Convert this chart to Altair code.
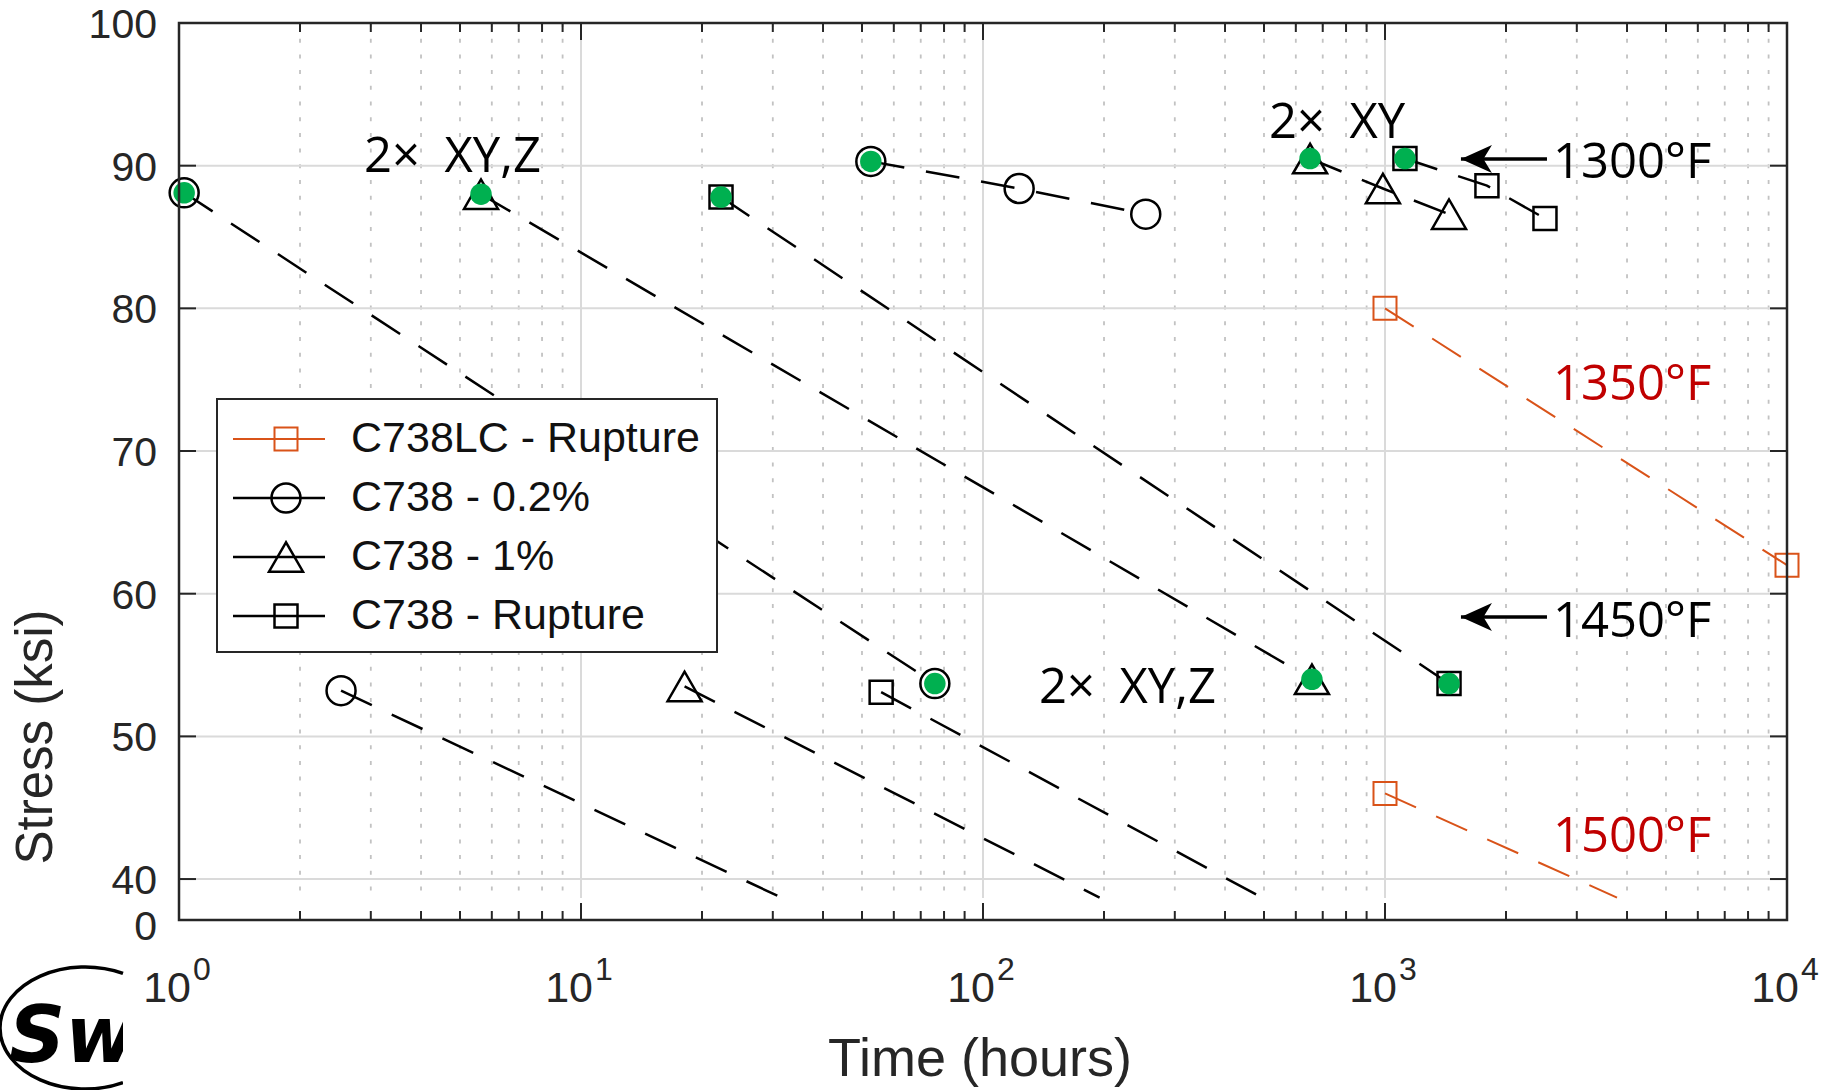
import json
import altair as alt
import pandas as pd

# ------------------------------------------------------------------
# Data (time in hours, stress in ksi)
# ------------------------------------------------------------------
SERIES = ["C738LC - Rupture", "C738 - 0.2%", "C738 - 1%", "C738 - Rupture"]
SERIES_COLOR = ["#D95319", "#000000", "#000000", "#000000"]
SERIES_SHAPE = ["square", "circle", "triangle-up", "square"]
SERIES_SIZE = [529, 841, 1156, 529]
SERIES_STROKE = [2.0, 2.5, 2.5, 2.5]

LC_RUP_TIME = [1000, 10000, 1000]
LC_RUP_STRESS = [80, 62, 46]
LC_RUP_DUP = [False, False, False]

C02_TIME = [1.03, 52.6, 123, 254, 2.53, 75.9]
C02_STRESS = [88.1, 90.3, 88.4, 86.6, 53.2, 53.7]
C02_DUP = [True, True, False, False, False, True]

C1_TIME = [5.64, 651, 988, 1443, 18.1, 658]
C1_STRESS = [88.0, 90.5, 88.4, 86.6, 53.5, 54.0]
C1_DUP = [True, True, False, False, False, True]

CRUP_TIME = [22.3, 1121, 1793, 2500, 55.8, 1443]
CRUP_STRESS = [87.8, 90.5, 88.6, 86.3, 53.1, 53.7]
CRUP_DUP = [True, True, False, False, False, True]

# dashed trend lines
TREND_SERIES = ["C738 - 0.2%", "C738 - 1%", "C738 - Rupture",
                "C738 - 0.2%", "C738 - 1%", "C738 - Rupture",
                "C738 - 0.2%", "C738 - 1%", "C738 - Rupture",
                "C738LC - Rupture", "C738LC - Rupture"]
TREND_TIME = [[52.6, 123, 254], [651, 988, 1443], [1121, 1793, 2500],
              [1.03, 75.9], [5.64, 658], [22.3, 1443],
              [2.53, 31.5], [18.1, 195], [55.8, 494],
              [1000, 10000], [1000, 3777]]
TREND_STRESS = [[90.3, 88.4, 86.6], [90.5, 88.4, 86.6], [90.5, 88.6, 86.3],
                [88.1, 53.7], [88.0, 54.0], [87.8, 53.7],
                [53.2, 38.7], [53.5, 38.7], [53.1, 38.7],
                [80, 62], [46, 38.7]]

# axes
X_MAJOR = [1, 10, 100, 1000, 10000]
X_MAJOR_EXP = ["0", "1", "2", "3", "4"]
X_MINOR = [m * d for d in [1, 10, 100, 1000] for m in range(2, 10)]
X_GRID_MAJOR = [10, 100, 1000]
Y_TICKS = [40, 50, 60, 70, 80, 90, 100]
Y_TICK_LABELS = ["40", "50", "60", "70", "80", "90", "100"]
Y_GRID = [40, 50, 60, 70, 80, 90]
Y_BREAK = 37.13          # where the broken axis shows "0"
Y_BREAK_LABEL = "0"
X_TITLE = "Time (hours)"
Y_TITLE = "Stress (ksi)"

# annotations
ANNOT_TEXT = ["2×\u2002XY,Z", "2×\u2002XY", "2×\u2002XY,Z",
              "1300°F", "1350°F", "1450°F", "1500°F"]
ANNOT_TIME = [2.885, 514.5, 137.8, 2618, 2618, 2618, 2618]
ANNOT_STRESS = [89.56, 91.94, 52.34, 89.14, 73.58, 56.96, 41.89]
ANNOT_COLOR = ["#000000", "#000000", "#000000", "#000000", "#C00000", "#000000", "#C00000"]

ARROW_TIP = [1545, 1545]
ARROW_TAIL = [2529, 2529]
ARROW_STRESS = [90.47, 58.37]

# ------------------------------------------------------------------
W, H = 1608, 897
FONT = "Liberation Sans"
AX = "#262626"

xs = alt.Scale(type="log", domain=[1, 10000], nice=False)
ys = alt.Scale(domain=[Y_BREAK, 100], nice=False, zero=False)
color_s = alt.Scale(domain=SERIES, range=SERIES_COLOR)
shape_s = alt.Scale(domain=SERIES, range=SERIES_SHAPE)

SER_JS = json.dumps(SERIES)
SIZE_EXPR = f"{json.dumps(SERIES_SIZE)}[indexof({SER_JS}, datum.series)]"
SW_EXPR = f"{json.dumps(SERIES_STROKE)}[indexof({SER_JS}, datum.series)]"

rows = []
for name, ts, ss, dd in [(SERIES[0], LC_RUP_TIME, LC_RUP_STRESS, LC_RUP_DUP),
                         (SERIES[1], C02_TIME, C02_STRESS, C02_DUP),
                         (SERIES[2], C1_TIME, C1_STRESS, C1_DUP),
                         (SERIES[3], CRUP_TIME, CRUP_STRESS, CRUP_DUP)]:
    for t, s, d in zip(ts, ss, dd):
        rows.append({"series": name, "time": t, "stress": s, "dup": d})
pts = pd.DataFrame(rows)

trows = []
for i, (name, ts, ss) in enumerate(zip(TREND_SERIES, TREND_TIME, TREND_STRESS)):
    for j, (t, s) in enumerate(zip(ts, ss)):
        trows.append({"line": i, "idx": j, "series": name, "time": t, "stress": s})
trend = pd.DataFrame(trows)

one = pd.DataFrame({"a": [0]})

X = lambda f="time": alt.X(f"{f}:Q", scale=xs, axis=None)
Y = lambda f="stress": alt.Y(f"{f}:Q", scale=ys, axis=None)
MSIZE = alt.Size("msize:Q", scale=None, legend=None)
MSW = alt.StrokeWidth("msw:Q", scale=None, legend=None)

# grid
vminor = alt.Chart(pd.DataFrame({"time": X_MINOR})).mark_rule(
    color="#c2c2c2", strokeWidth=1.8, strokeDash=[4, 11.7]).encode(
    x=X(), y=alt.value(0), y2=alt.value(875))
vmajor = alt.Chart(pd.DataFrame({"time": X_GRID_MAJOR})).mark_rule(
    color="#dadada", strokeWidth=2).encode(x=X(), y=alt.value(0), y2=alt.value(875))
hgrid = alt.Chart(pd.DataFrame({"stress": Y_GRID})).mark_rule(
    color="#dadada", strokeWidth=2).encode(y=Y(), x=alt.value(0), x2=alt.value(W))

# trend lines
lines = alt.Chart(trend).transform_calculate(msw=SW_EXPR).mark_line(
    strokeDash=[34, 22]).encode(
    x=X(), y=Y(),
    color=alt.Color("series:N", scale=color_s, legend=None),
    strokeWidth=MSW, detail="line:N", order="idx:Q")

# markers
markers = alt.Chart(pts).transform_calculate(msize=SIZE_EXPR, msw=SW_EXPR).mark_point(
    filled=False, opacity=1).encode(
    x=X(), y=Y(),
    shape=alt.Shape("series:N", scale=shape_s, legend=None),
    color=alt.Color("series:N", scale=color_s, legend=None),
    size=MSIZE, strokeWidth=MSW)

green = alt.Chart(pts).transform_filter("datum.dup").mark_circle(
    size=462, color="#00B050", opacity=1).encode(x=X(), y=Y())

# inward ticks
def xticks(vals, length):
    d = pd.DataFrame({"time": vals})
    b = alt.Chart(d).mark_rule(color=AX, strokeWidth=2).encode(
        x=X(), y=alt.value(H), y2=alt.value(H - length))
    t = alt.Chart(d).mark_rule(color=AX, strokeWidth=2).encode(
        x=X(), y=alt.value(0), y2=alt.value(length))
    return [b, t]

yd = pd.DataFrame({"stress": Y_TICKS})
yl = alt.Chart(yd).mark_rule(color=AX, strokeWidth=2).encode(
    y=Y(), x=alt.value(0), x2=alt.value(17))
yr = alt.Chart(yd).mark_rule(color=AX, strokeWidth=2).encode(
    y=Y(), x=alt.value(W), x2=alt.value(W - 17))

frame = alt.Chart(one).mark_rect(fill="transparent", stroke=AX, strokeWidth=2.5).encode(
    x=alt.value(0), x2=alt.value(W), y=alt.value(0), y2=alt.value(H))

# axis labels and titles
ylab = alt.Chart(pd.DataFrame({"stress": Y_TICKS, "lab": Y_TICK_LABELS})).mark_text(
    align="right", baseline="alphabetic", dx=-22, dy=15, font=FONT, fontSize=41,
    color=AX).encode(x=alt.value(0), y=Y(), text="lab:N")
ylab0 = alt.Chart(pd.DataFrame({"stress": [Y_BREAK], "lab": [Y_BREAK_LABEL]})).mark_text(
    align="right", baseline="alphabetic", dx=-22, dy=20, font=FONT, fontSize=41,
    color=AX).encode(x=alt.value(0), y=Y(), text="lab:N")
xl_df = pd.DataFrame({"time": X_MAJOR, "exp": X_MAJOR_EXP})
xl_base = alt.Chart(xl_df).mark_text(
    text="10", align="right", baseline="alphabetic", dx=12, font=FONT,
    fontSize=43, color=AX).encode(x=X(), y=alt.value(979))
xl_exp = alt.Chart(xl_df).mark_text(
    align="left", baseline="alphabetic", dx=14, font=FONT,
    fontSize=32, color=AX).encode(x=X(), y=alt.value(957), text="exp:N")
xtitle = alt.Chart(pd.DataFrame({"t": [X_TITLE]})).mark_text(
    align="center", baseline="alphabetic", font=FONT, fontSize=54, color=AX).encode(
    x=alt.value(W / 2 - 3), y=alt.value(1053), text="t:N")
ytitle = alt.Chart(pd.DataFrame({"t": [Y_TITLE]})).mark_text(
    align="center", baseline="alphabetic", angle=270, font=FONT, fontSize=51,
    color=AX).encode(x=alt.value(-127), y=alt.value(714), text="t:N")

# annotations
an_df = pd.DataFrame({"label": ANNOT_TEXT, "time": ANNOT_TIME,
                      "stress": ANNOT_STRESS, "col": ANNOT_COLOR})
annots = alt.Chart(an_df).mark_text(
    align="left", baseline="alphabetic", font="Open Sans", fontSize=49).encode(
    x=X(), y=Y(), text="label:N", color=alt.Color("col:N", scale=None))

ar_df = pd.DataFrame({"tip": ARROW_TIP, "tail": ARROW_TAIL, "stress": ARROW_STRESS})
arrow_line = alt.Chart(ar_df).mark_rule(color="black", strokeWidth=3.5).encode(
    x=X("tip"), x2="tail:Q", y=Y())
arrow_head = alt.Chart(ar_df).mark_point(
    shape="M0,0L2,-0.9L1.45,0L2,0.9Z", size=961, filled=True, color="black",
    opacity=1).encode(x=X("tip"), y=Y())

# legend
leg_df = pd.DataFrame({"series": SERIES, "row": list(range(len(SERIES)))})
leg_base = alt.Chart(leg_df).transform_calculate(
    ly="416 + 59 * datum.row", msize=SIZE_EXPR, msw=SW_EXPR)
LY = alt.Y("ly:Q", scale=None, axis=None)
leg_box = alt.Chart(one).mark_rect(fill="white", stroke=AX, strokeWidth=2).encode(
    x=alt.value(38), x2=alt.value(538), y=alt.value(376), y2=alt.value(629))
leg_line = leg_base.mark_rule().encode(
    x=alt.value(54), x2=alt.value(146), y=LY,
    color=alt.Color("series:N", scale=color_s, legend=None), strokeWidth=MSW)
leg_pt = leg_base.mark_point(filled=False, opacity=1).encode(
    x=alt.value(107), y=LY,
    shape=alt.Shape("series:N", scale=shape_s, legend=None),
    color=alt.Color("series:N", scale=color_s, legend=None),
    size=MSIZE, strokeWidth=MSW)
leg_txt = leg_base.mark_text(align="left", baseline="middle", font=FONT,
                             fontSize=43, color="#111111").encode(
    x=alt.value(172), y=LY, text="series:N")

# logo (partially cropped in the reference)
logo_ring = alt.Chart(one).mark_point(
    shape="M0.447,-0.642A1,0.7176,0,0,0,-1,0A1,0.7176,0,0,0,0.447,0.642",
    size=28900, filled=False, color="black", strokeWidth=3.5, opacity=1).encode(
    x=alt.value(-94), y=alt.value(1005))
logo_txt = alt.Chart(one).mark_text(
    text="Sw", align="left", baseline="alphabetic", font="DejaVu Sans", fontSize=78,
    fontWeight="bold", fontStyle="italic", color="black").encode(
    x=alt.value(-170), y=alt.value(1039))
logo_cut = alt.Chart(one).mark_rect(fill="white").encode(
    x=alt.value(-56), x2=alt.value(-38), y=alt.value(960), y2=alt.value(1067))

layers = [vminor, vmajor, hgrid, lines, markers, green]
layers += xticks(X_MAJOR, 17) + xticks(X_MINOR, 9)
layers += [yl, yr, frame, annots, arrow_line, arrow_head,
           leg_box, leg_line, leg_pt, leg_txt,
           logo_ring, logo_txt, logo_cut, ylab, ylab0, xl_base, xl_exp,
           xtitle, ytitle]

chart = alt.layer(*layers).properties(
    width=W, height=H,
    padding={"left": 179, "top": 23, "right": 50, "bottom": 170},
    autosize=alt.AutoSizeParams(type="none"),
    background="white",
).configure_view(strokeWidth=0)

chart.save("out.html", embed_options={"renderer": "svg", "actions": False})
